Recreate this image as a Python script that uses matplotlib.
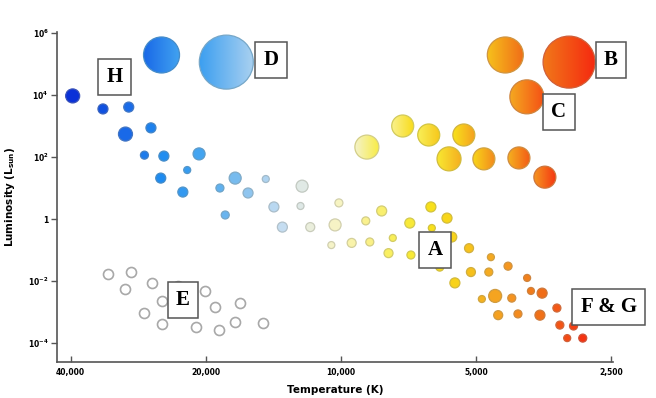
import numpy as np
import matplotlib
matplotlib.use('Agg')
import matplotlib.pyplot as plt
from matplotlib.colors import to_rgb
from matplotlib.patches import Circle
from matplotlib.ticker import FixedLocator, NullLocator

# supergiants / giants : temperature (K), log10 luminosity (Lsun), relative size
giant_temp = [25100, 18000, 4300, 3100, 3850, 8750, 7280, 6370, 5320, 5740, 4800, 4010, 3510]
giant_loglum = [5.29, 5.06, 5.29, 5.06, 3.94, 2.32, 3.0, 2.71, 2.71, 1.94, 1.94, 1.97, 1.35]
giant_size = [18, 27, 18, 26, 17, 12, 11, 11, 11, 12, 11, 11, 11]

# main sequence
ms_temp = [39600, 33900, 29700, 30200, 26500, 27400, 24800, 20700, 25200, 22000,
           22500, 18600, 17200, 16100, 14700, 18100, 14100, 12300, 13500, 11700,
           12200, 10300, 10100, 8800, 8110, 10500, 9460, 8620, 7660, 7830,
           6980, 7020, 6300, 5800, 6270, 5660, 6020, 5180, 4630, 4240,
           5130, 4680, 5570, 3845, 3770, 3560, 4850, 4530, 4160, 4460,
           4030, 3600, 3300, 3250, 3030, 3130, 2890]
ms_loglum = [3.97, 3.55, 3.61, 2.74, 2.94, 2.06, 2.03, 2.10, 1.32, 1.58,
             0.87, 1.0, 1.32, 0.84, 1.29, 0.13, 0.39, 0.42, -0.26, -0.26,
             1.06, -0.19, 0.52, -0.06, 0.26, -0.84, -0.77, -0.74, -0.61, -1.10,
             -1.16, -0.13, 0.39, 0.03, -0.29, -0.58, -1.55, -0.94, -1.23, -1.52,
             -1.71, -1.71, -2.06, -1.90, -2.32, -2.39, -2.58, -2.48, -2.55, -3.10,
             -3.06, -3.10, -2.87, -3.42, -3.45, -3.84, -3.84]
ms_size = [7, 5, 5, 7, 5, 4, 5, 6, 5, 3.5,
           5, 4, 6, 5, 3.5, 4, 5, 3.5, 5, 4.5,
           6, 6, 4, 4, 5, 3.5, 4.5, 4, 3.5, 4.5,
           4, 5, 5, 5, 3.5, 5, 4, 4.5, 3.5, 4,
           4.5, 4, 5, 3.5, 3.5, 5, 3.5, 6.5, 4, 4.5,
           4, 5, 4, 4, 4, 3.5, 4]

# white dwarfs
wd_temp = [33100, 29400, 30200, 26300, 23100, 25100, 20100, 27500, 19100, 16800,
           25100, 21000, 18700, 17200, 14900]
wd_loglum = [-1.77, -1.71, -2.26, -2.06, -2.16, -2.65, -2.32, -3.03, -2.84, -2.71,
             -3.39, -3.48, -3.58, -3.32, -3.35]

# region labels
labels = ['H', 'D', 'B', 'C', 'E', 'A', 'F & G']
label_temp = [31900, 14300, 2500, 3265, 22500, 6170, 2530]
label_loglum = [4.58, 5.13, 5.13, 3.45, -2.61, -1.0, -2.84]

x_ticks = [40000, 20000, 10000, 5000, 2500]
x_ticklabels = ['40,000', '20,000', '10,000', '5,000', '2,500']
y_ticks = [1e-4, 1e-2, 1, 1e2, 1e4, 1e6]
y_ticklabels = ['10$^{-4}$', '10$^{-2}$', '1', '10$^{2}$', '10$^{4}$', '10$^{6}$']

# colour by temperature
cmap_T = [40000, 34000, 30000, 25000, 20000, 17000, 15000, 13000, 11500, 10000,
          8500, 7500, 6500, 5500, 4800, 4200, 3600, 3200, 2800]
cmap_c = ['#0a2fd8', '#1050e0', '#1a6ae8', '#1e8cf0', '#4aa8f0', '#7bbcee', '#a8d0f0',
          '#d0e2f2', '#eef0d8', '#f8f4c0', '#faf080', '#f8ee50', '#f8e41c', '#f8d018',
          '#f5b020', '#f59520', '#f07018', '#f55015', '#f52a10']
cmap_rgb = np.array([to_rgb(c) for c in cmap_c])


def temp_color(T):
    lt = -np.log10(np.atleast_1d(np.asarray(T, dtype=float)))
    ref = -np.log10(cmap_T)
    return np.stack([np.interp(lt, ref, cmap_rgb[:, k]) for k in range(3)], axis=1)


def edge_color(fc):
    return np.clip(0.65 * fc + 0.35 * np.array([0.55, 0.55, 0.5]), 0, 1)


def px_area(r):
    return (2 * np.asarray(r) * 0.72) ** 2


plt.rcParams['mathtext.default'] = 'bf'
W, H = 656, 398
fig = plt.figure(figsize=(W / 100, H / 100), dpi=100)
# background axes in pixel units for the shaded giant discs
ov = fig.add_axes([0, 0, 1, 1], zorder=0)
ov.set_xlim(0, W)
ov.set_ylim(0, H)
ov.axis('off')

ax = fig.add_axes([0.087, 0.0905, 0.8475, 0.829], zorder=1)
ax.patch.set_alpha(0)
ax.set_xscale('log')
ax.set_yscale('log')
ax.set_xlim(42900, 2474)
ax.set_ylim(10 ** -4.61, 10 ** 6.03)

# giants with a left-to-right colour gradient
for T, LL, r in zip(giant_temp, giant_loglum, giant_size):
    px, py = ax.transData.transform((T, 10 ** LL))
    c0 = temp_color(T * 1.2)[0]
    c1 = temp_color(T / 1.2)[0]
    t = np.linspace(0, 1, 64)[:, None]
    grad = (c0[None, :] * (1 - t) + c1[None, :] * t)[None, :, :]
    im = ov.imshow(grad, extent=[px - r, px + r, py - r, py + r], aspect='auto',
                   interpolation='bilinear', zorder=2)
    clip = Circle((px, py), r, transform=ov.transData)
    im.set_clip_path(clip)
    ec = edge_color(temp_color(T)[0])
    ov.add_patch(Circle((px, py), r, fc='none', ec=ec, lw=0.9, zorder=3))
ov.set_xlim(0, W)
ov.set_ylim(0, H)

fc = temp_color(ms_temp)
ax.scatter(ms_temp, 10 ** np.array(ms_loglum), s=px_area(ms_size), c=fc,
           edgecolors=edge_color(fc), linewidths=0.9, zorder=3)

ax.scatter(wd_temp, 10 ** np.array(wd_loglum), s=px_area(5), facecolors='white',
           edgecolors='#a8a8a8', linewidths=1.2, zorder=3)

for lab, T, LL in zip(labels, label_temp, label_loglum):
    ax.text(T, 10 ** LL, lab, family='Liberation Serif', weight='bold', fontsize=15,
            ha='center', va='center', zorder=5,
            bbox=dict(boxstyle='square,pad=0.4', fc='white', ec='#555555', lw=1.1))

for s in ['top', 'right']:
    ax.spines[s].set_visible(False)
for s in ['left', 'bottom']:
    ax.spines[s].set_color('#555555')
    ax.spines[s].set_linewidth(1.2)

ax.xaxis.set_major_locator(FixedLocator(x_ticks))
ax.xaxis.set_minor_locator(NullLocator())
ax.set_xticklabels(x_ticklabels)
ax.yaxis.set_major_locator(FixedLocator(y_ticks))
ax.yaxis.set_minor_locator(NullLocator())
ax.set_yticklabels(y_ticklabels)
ax.tick_params(axis='x', direction='in', length=4, width=1, color='#555555', pad=4,
               labelsize=5.5)
ax.tick_params(axis='y', direction='out', length=4, width=1, color='#555555', pad=2,
               labelsize=5.5)
for t in ax.get_xticklabels() + ax.get_yticklabels():
    t.set_fontweight('bold')

ax.set_xlabel('Temperature (K)', fontsize=7.5, fontweight='bold', labelpad=6)
ax.set_ylabel('Luminosity (L$_{\\mathregular{sun}}$)', fontsize=7.5, fontweight='bold', labelpad=8)

fig.savefig('out.png', dpi=100)
